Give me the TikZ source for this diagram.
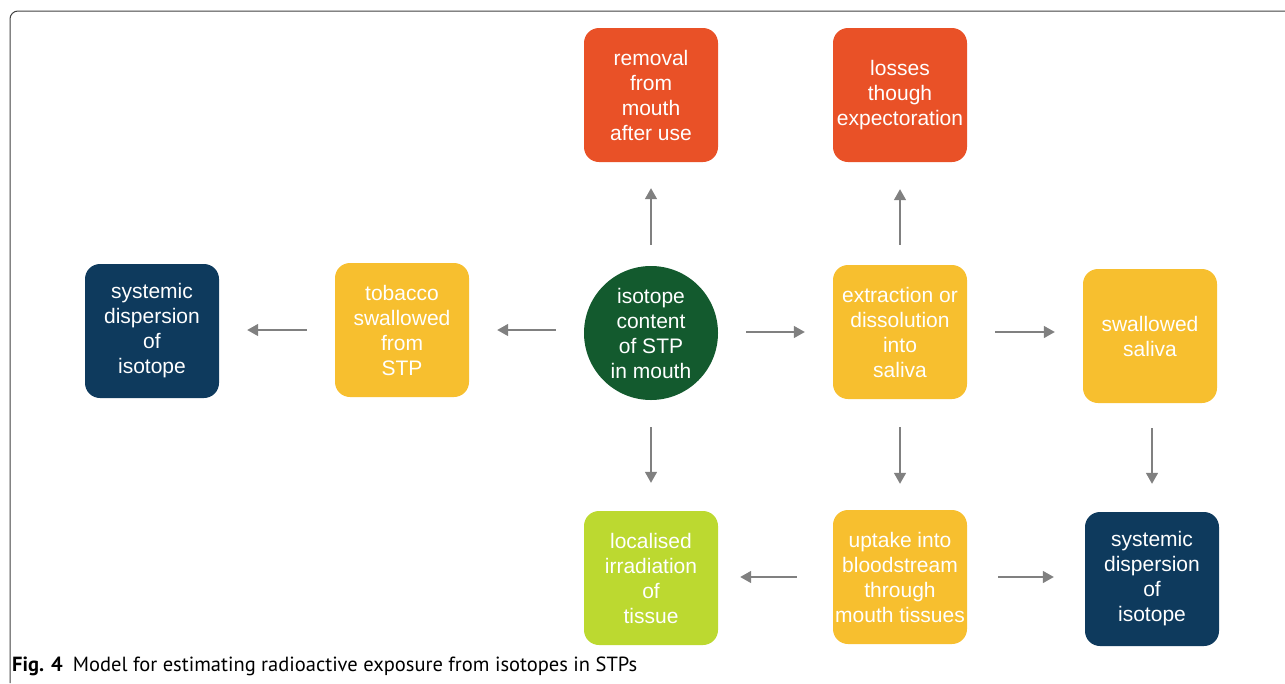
\documentclass[tikz,border=0pt]{standalone}
\usepackage{fontspec}
\setmainfont{Liberation Sans}
\newfontfamily\capfont{PT Sans}
\usepackage{tikz}
\usetikzlibrary{arrows.meta}
\definecolor{redorange}{RGB}{233,81,39}
\definecolor{amber}{RGB}{247,191,47}
\definecolor{navy}{RGB}{14,58,93}
\definecolor{forest}{RGB}{19,90,46}
\definecolor{lime}{RGB}{188,217,48}
\definecolor{arrowgray}{RGB}{128,128,128}

\begin{document}
\begin{tikzpicture}[x=1pt, y=-1pt,
    box/.style={rectangle, rounded corners=15pt, minimum width=134pt, minimum height=134pt,
        inner sep=0pt, align=center, text=white, font=\fontsize{21}{25}\selectfont},
    arr/.style={draw=arrowgray, line width=1.5pt, -{Triangle[length=11pt,width=12pt]},
        shorten <=28pt, shorten >=28pt}]
    \useasboundingbox (0,0) rectangle (1285,683);

    % frame
    \draw[black!75, line width=1pt, rounded corners=8pt] (10,683) -- (10,11) -- (1285,11);

    \foreach \k/\i/\j/\t in {removal/651/95/{removal\\from\\mouth\\after use},
                             losses/900/95/{losses\\though\\expectoration}} {
        \node (\k) at (\i, \j) [box, fill=redorange] {\t};
    }

    \foreach \k/\i/\j/\t in {tobacco/402/330/{tobacco\\swallowed\\from\\STP},
                             extract/900/332/{extraction or\\dissolution\\into\\saliva},
                             saliva/1150/336/{swallowed\\saliva},
                             uptake/900/577/{uptake into\\bloodstream\\through\\mouth tissues}} {
        \node (\k) at (\i, \j) [box, fill=amber] {\t};
    }

    \foreach \k/\i/\j in {spreadL/152/331, spreadR/1152/579} {
        \node (\k) at (\i, \j) [box, fill=navy] {systemic\\dispersion\\of\\isotope};
    }

    \node (irradiate) at (651, 578) [box, fill=lime] {localised\\irradiation\\of\\tissue};
    \node (content) at (651, 333) [box, circle, minimum size=134pt, fill=forest] {isotope\\content\\of STP\\in mouth};

    \draw[arr, shorten <=21pt, shorten >=26pt] (content) -- (removal);
    \draw[arr, shorten <=20pt, shorten >=27pt] (extract) -- (losses);
    \draw[arr] (content.west |- tobacco) -- (tobacco);
    \draw[arr] (tobacco) -- (spreadL.east |- tobacco);
    \draw[arr] (content.east |- extract) -- (extract);
    \draw[arr] (extract) -- (saliva.west |- extract);
    \draw[arr, shorten <=27pt] (content) -- (irradiate);
    \draw[arr, shorten >=26pt] (extract) -- (uptake);
    \draw[arr, shorten <=25pt] (saliva.south -| spreadR) -- (spreadR);
    \draw[arr, shorten <=36pt, shorten >=22pt] (uptake) -- (irradiate.east |- uptake);
    \draw[arr, shorten <=31pt, shorten >=31pt] (uptake) -- (spreadR.west |- uptake);

    \node (caption) at (12, 666) [anchor=west, inner sep=0pt, font=\capfont\fontsize{20.5}{24}\selectfont]
        {\textbf{Fig. 4}\enspace Model for estimating radioactive exposure from isotopes in STPs};
\end{tikzpicture}
\end{document}
